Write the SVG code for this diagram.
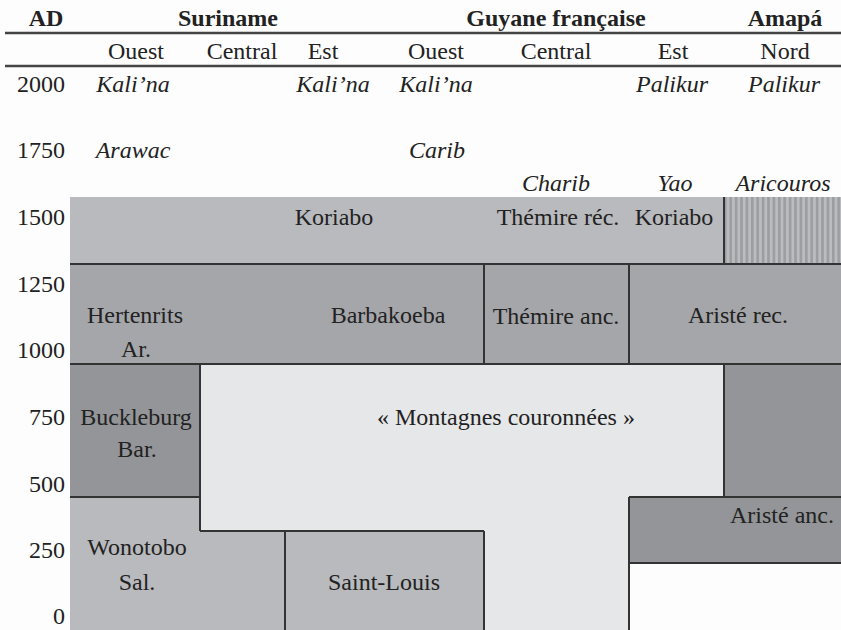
<svg xmlns="http://www.w3.org/2000/svg" width="841" height="630" viewBox="0 0 841 630">
<defs>
<pattern id="stripes" x="724" y="0" width="5.4" height="10" patternUnits="userSpaceOnUse">
<rect x="0" y="0" width="5.4" height="10" fill="#bbbcbf"/>
<rect x="0" y="0" width="2.6" height="10" fill="#9c9da0"/>
</pattern>
<style>
text{font-family:"Liberation Serif","Times New Roman",serif;font-size:24px;fill:#222;text-anchor:middle}
.b{font-weight:bold}
.i{font-style:italic}
.y{text-anchor:end}
.ln{stroke:#333;stroke-width:2;fill:none}
.hl{stroke:#444;stroke-width:2.4;fill:none}
</style>
</defs>
<rect width="841" height="630" fill="#fdfdfd"/>

<g id="header">
<text class="b" x="46" y="26">AD</text>
<text class="b" x="228" y="26">Suriname</text>
<text class="b" x="556" y="26">Guyane française</text>
<text class="b" x="785" y="26">Amapá</text>
<line class="hl" x1="5" y1="33" x2="841" y2="33"/>
<text x="136" y="59">Ouest</text>
<text x="242" y="59">Central</text>
<text x="323" y="59">Est</text>
<text x="436" y="59">Ouest</text>
<text x="556" y="59">Central</text>
<text x="673" y="59">Est</text>
<text x="785" y="59">Nord</text>
<line class="hl" x1="5" y1="66" x2="841" y2="66"/>
</g>

<g id="years">
<text class="y" x="65" y="92">2000</text>
<text class="y" x="65" y="158">1750</text>
<text class="y" x="65" y="225">1500</text>
<text class="y" x="65" y="292">1250</text>
<text class="y" x="65" y="358">1000</text>
<text class="y" x="65" y="425">750</text>
<text class="y" x="65" y="492">500</text>
<text class="y" x="65" y="558">250</text>
<text class="y" x="65" y="624">0</text>
</g>

<g id="peoples">
<text class="i" x="133" y="92">Kali’na</text>
<text class="i" x="333" y="92">Kali’na</text>
<text class="i" x="436" y="92">Kali’na</text>
<text class="i" x="672" y="92">Palikur</text>
<text class="i" x="784" y="92">Palikur</text>
<text class="i" x="133" y="158">Arawac</text>
<text class="i" x="437" y="158">Carib</text>
<text class="i" x="556" y="191">Charib</text>
<text class="i" x="675" y="191">Yao</text>
<text class="i" x="783" y="191">Aricouros</text>
</g>

<g id="koriabo-band">
<rect x="70" y="197" width="654" height="67" fill="#b9babd"/>
<text x="334" y="225">Koriabo</text>
<text x="558" y="225">Thémire réc.</text>
<text x="674" y="225">Koriabo</text>
</g>
<g id="aricouros-zone">
<rect x="724" y="197" width="117" height="67" fill="url(#stripes)"/>
</g>

<g id="middle-band">
<rect x="70" y="264" width="771" height="100" fill="#a5a6a9"/>
<text x="135" y="323">Hertenrits</text>
<text x="136" y="357">Ar.</text>
<text x="388" y="323">Barbakoeba</text>
<text x="556" y="324">Thémire anc.</text>
<text x="738" y="323">Aristé rec.</text>
</g>

<g id="buckleburg">
<rect x="70" y="364" width="130" height="133" fill="#949598"/>
<text x="136" y="425">Buckleburg</text>
<text x="137" y="457">Bar.</text>
</g>

<g id="wonotobo">
<path d="M70 497 H200 V531 H285 V630 H70 Z" fill="#b9babd"/>
<text x="137" y="555">Wonotobo</text>
<text x="137" y="590">Sal.</text>
</g>

<g id="saint-louis">
<rect x="285" y="531" width="199" height="99" fill="#b9babd"/>
<text x="384" y="590">Saint-Louis</text>
</g>

<g id="montagnes">
<path d="M200 364 H724 V497 H629 V630 H484 V531 H200 Z" fill="#e6e7e9"/>
<text x="506" y="425">« Montagnes couronnées »</text>
</g>

<g id="ariste-anc">
<path d="M724 364 H841 V563 H629 V497 H724 Z" fill="#949598"/>
<text x="782" y="523">Aristé anc.</text>
</g>

<g id="borders">
<line class="ln" x1="724" y1="197" x2="724" y2="264"/>
<line class="ln" x1="70" y1="264" x2="841" y2="264"/>
<line class="ln" x1="484" y1="264" x2="484" y2="364"/>
<line class="ln" x1="629" y1="264" x2="629" y2="364"/>
<line class="ln" x1="70" y1="364" x2="841" y2="364"/>
<line class="ln" x1="200" y1="364" x2="200" y2="531"/>
<line class="ln" x1="70" y1="497" x2="200" y2="497"/>
<line class="ln" x1="200" y1="531" x2="484" y2="531"/>
<line class="ln" x1="285" y1="531" x2="285" y2="630"/>
<line class="ln" x1="484" y1="531" x2="484" y2="630"/>
<line class="ln" x1="724" y1="364" x2="724" y2="497"/>
<line class="ln" x1="629" y1="497" x2="841" y2="497"/>
<line class="ln" x1="629" y1="497" x2="629" y2="630"/>
<line class="ln" x1="629" y1="563" x2="841" y2="563"/>
</g>
</svg>
